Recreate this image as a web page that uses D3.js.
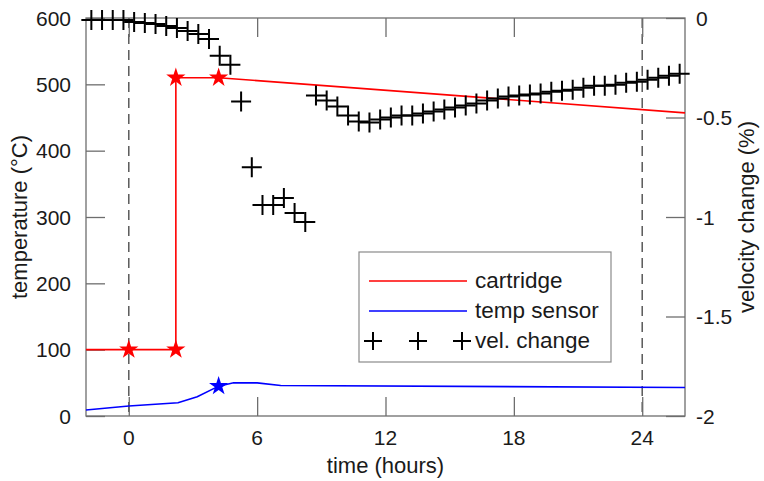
<!DOCTYPE html>
<html>
<head>
<meta charset="utf-8">
<script src="https://cdn.jsdelivr.net/npm/d3@7"></script>
<style>
  html, body { margin: 0; padding: 0; background: #fff; }
  svg { display: block; font-family: "Liberation Sans", Arial, sans-serif; }
</style>
</head>
<body>
<svg id="chart" width="764" height="481"></svg>
<script>
// Cartridge heater temperature (°C) against time (hours)
const cartridgeTimes = [-2, 0, 2.2, 2.2, 4.2, 26];
const cartridgeTemps = [100, 100, 100, 510, 510, 457];
const cartridgeStarTimes = [0, 2.2, 2.2, 4.2];
const cartridgeStarTemps = [100, 100, 510, 510];

// Temperature sensor reading (°C)
const sensorTimes = [-2, 0, 2.3, 3.2, 4.2, 4.9, 6, 7.1, 26];
const sensorTemps = [9, 15, 20, 29, 45, 50, 50, 46, 43];
const sensorStarTimes = [4.2];
const sensorStarTemps = [45];

// Relative seismic velocity change (%) every half hour
const velTimes = [
  -1.75, -1.25, -0.75, -0.25, 0.25, 0.75, 1.25, 1.75, 2.25, 2.75,
  3.25, 3.75, 4.25, 4.75, 5.25, 5.75, 6.25, 6.75, 7.25, 7.75,
  8.25, 8.75, 9.25, 9.75, 10.25, 10.75, 11.25, 11.75, 12.25, 12.75,
  13.25, 13.75, 14.25, 14.75, 15.25, 15.75, 16.25, 16.75, 17.25, 17.75,
  18.25, 18.75, 19.25, 19.75, 20.25, 20.75, 21.25, 21.75, 22.25, 22.75,
  23.25, 23.75, 24.25, 24.75, 25.25, 25.75
];
const velChange = [
  -0.01, -0.01, -0.01, -0.01, -0.02, -0.025, -0.03, -0.04, -0.05, -0.065,
  -0.08, -0.105, -0.19, -0.235, -0.42, -0.75, -0.94, -0.94, -0.905, -0.98,
  -1.025, -0.39, -0.415, -0.445, -0.49, -0.52, -0.525, -0.51, -0.5, -0.49,
  -0.49, -0.48, -0.47, -0.46, -0.45, -0.44, -0.43, -0.415, -0.405, -0.395,
  -0.39, -0.385, -0.38, -0.37, -0.365, -0.36, -0.35, -0.34, -0.34, -0.335,
  -0.325, -0.32, -0.31, -0.3, -0.29, -0.28
];

// Axis ticks and reference times
const timeTicks = [0, 6, 12, 18, 24];
const tempTicks = [0, 100, 200, 300, 400, 500, 600];
const velTicks = [0, -0.5, -1, -1.5, -2];
const markerTimes = [0, 24];

const legendLabels = ["cartridge", "temp sensor", "vel. change"];

const svg = d3.select("#chart");
const plotL = 86, plotR = 685, plotT = 18, plotB = 416;

const x = d3.scaleLinear().domain([-2, 26]).range([plotL, plotR]);
const yT = d3.scaleLinear().domain([0, 600]).range([plotB, plotT]);
const yV = d3.scaleLinear().domain([-2, 0]).range([plotB, plotT]);

const axisColor = "#6e6e6e";
const textColor = "#1a1a1a";
const tickLen = 19;

// Dashed reference lines at start and 24 h
svg.append("g").selectAll("line").data(markerTimes).join("line")
  .attr("x1", d => x(d)).attr("x2", d => x(d))
  .attr("y1", plotT).attr("y2", plotB)
  .attr("stroke", "#5a5a5a").attr("stroke-width", 1.5)
  .attr("stroke-dasharray", "10,6");

// Axes drawn with inward ticks, labels placed separately
function styleAxis(g) {
  g.select(".domain").remove();
  g.selectAll(".tick line").attr("stroke", axisColor).attr("stroke-width", 1.3);
  g.selectAll(".tick text").remove();
}
svg.append("g").attr("transform", `translate(0,${plotB})`)
  .call(d3.axisTop(x).tickValues(timeTicks).tickSize(tickLen)).call(styleAxis);
svg.append("g").attr("transform", `translate(0,${plotT})`)
  .call(d3.axisBottom(x).tickValues(timeTicks).tickSize(tickLen)).call(styleAxis);
svg.append("g").attr("transform", `translate(${plotL},0)`)
  .call(d3.axisRight(yT).tickValues(tempTicks).tickSize(tickLen)).call(styleAxis);
svg.append("g").attr("transform", `translate(${plotR},0)`)
  .call(d3.axisLeft(yV).tickValues(velTicks).tickSize(tickLen)).call(styleAxis);

// Plot frame
svg.append("rect")
  .attr("x", plotL).attr("y", plotT)
  .attr("width", plotR - plotL).attr("height", plotB - plotT)
  .attr("fill", "none").attr("stroke", axisColor).attr("stroke-width", 1.3);

// Tick labels
const tickFont = 21;
svg.append("g").selectAll("text").data(timeTicks).join("text")
  .attr("x", d => x(d)).attr("y", plotB + 29)
  .attr("text-anchor", "middle").attr("font-size", tickFont).attr("fill", textColor)
  .text(d => d);
svg.append("g").selectAll("text").data(tempTicks).join("text")
  .attr("x", plotL - 15).attr("y", d => yT(d)).attr("dy", "0.36em")
  .attr("text-anchor", "end").attr("font-size", tickFont).attr("fill", textColor)
  .text(d => d);
svg.append("g").selectAll("text").data(velTicks).join("text")
  .attr("x", plotR + 11).attr("y", d => yV(d)).attr("dy", "0.36em")
  .attr("text-anchor", "start").attr("font-size", tickFont).attr("fill", textColor)
  .text(d => d === 0 ? "0" : "-" + Math.abs(d));

// Axis titles
const titleFont = 22;
svg.append("text")
  .attr("x", (plotL + plotR) / 2).attr("y", plotB + 57)
  .attr("text-anchor", "middle").attr("font-size", titleFont).attr("fill", textColor)
  .text("time (hours)");
svg.append("text")
  .attr("transform", `translate(27,${(plotT + plotB) / 2}) rotate(-90)`)
  .attr("text-anchor", "middle").attr("font-size", titleFont).attr("fill", textColor)
  .text("temperature (°C)");
svg.append("text")
  .attr("transform", `translate(754,${(plotT + plotB) / 2}) rotate(-90)`)
  .attr("text-anchor", "middle").attr("font-size", titleFont).attr("fill", textColor)
  .text("velocity change (%)");

// Temperature lines
const lineT = d3.line().x(d => x(d[0])).y(d => yT(d[1]));
svg.append("path")
  .datum(d3.zip(cartridgeTimes, cartridgeTemps))
  .attr("d", lineT).attr("fill", "none").attr("stroke", "#ff0000").attr("stroke-width", 1.6);
svg.append("path")
  .datum(d3.zip(sensorTimes, sensorTemps))
  .attr("d", lineT).attr("fill", "none").attr("stroke", "#0000ff").attr("stroke-width", 1.6);

// Star markers
const star = d3.symbol().type(d3.symbolStar).size(115);
svg.append("g").selectAll("path").data(d3.zip(cartridgeStarTimes, cartridgeStarTemps)).join("path")
  .attr("transform", d => `translate(${x(d[0])},${yT(d[1])})`)
  .attr("d", star).attr("fill", "#ff0000");
svg.append("g").selectAll("path").data(d3.zip(sensorStarTimes, sensorStarTemps)).join("path")
  .attr("transform", d => `translate(${x(d[0])},${yT(d[1])})`)
  .attr("d", star).attr("fill", "#0000ff");

// Velocity change as plus markers
const plusPath = s => `M${-s},0H${s}M0,${-s}V${s}`;
svg.append("g").selectAll("path").data(d3.zip(velTimes, velChange)).join("path")
  .attr("transform", d => `translate(${x(d[0])},${yV(d[1])})`)
  .attr("d", plusPath(10)).attr("fill", "none")
  .attr("stroke", "#000").attr("stroke-width", 2);

// Legend
const lg = svg.append("g");
lg.append("rect")
  .attr("x", 359).attr("y", 252).attr("width", 252).attr("height", 110)
  .attr("fill", "#fff").attr("stroke", "#8a8a8a").attr("stroke-width", 1.2);
const rowsY = [281, 311, 341];
lg.append("line").attr("x1", 369).attr("x2", 467).attr("y1", rowsY[0]).attr("y2", rowsY[0])
  .attr("stroke", "#ff0000").attr("stroke-width", 1.6);
lg.append("line").attr("x1", 369).attr("x2", 467).attr("y1", rowsY[1]).attr("y2", rowsY[1])
  .attr("stroke", "#0000ff").attr("stroke-width", 1.6);
lg.append("g").selectAll("path").data([373, 418, 462]).join("path")
  .attr("transform", d => `translate(${d},${rowsY[2]})`)
  .attr("d", plusPath(9)).attr("fill", "none").attr("stroke", "#000").attr("stroke-width", 2);
lg.selectAll("text.lab").data(legendLabels).join("text")
  .attr("class", "lab")
  .attr("x", 475).attr("y", (d, i) => rowsY[i]).attr("dy", "0.33em")
  .attr("font-size", 22.5).attr("fill", textColor)
  .text(d => d);
</script>
</body>
</html>
